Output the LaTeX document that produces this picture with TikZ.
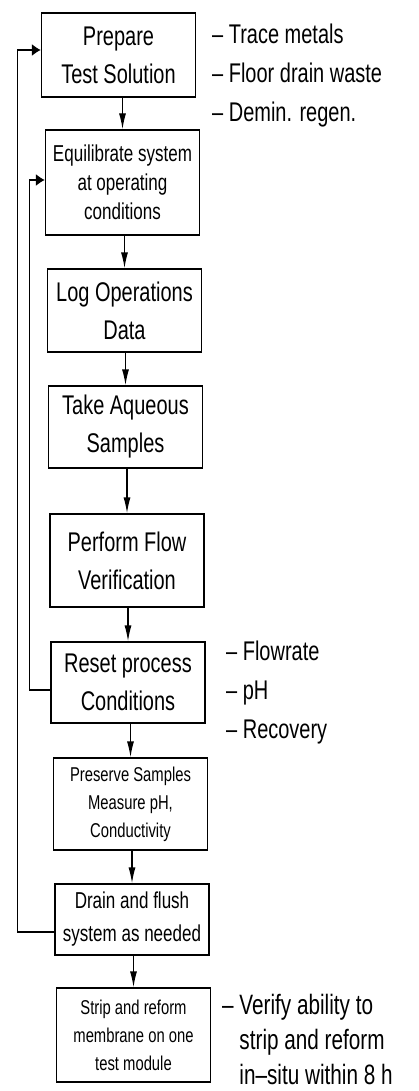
\documentclass[tikz,border=0pt]{standalone}
\usepackage{fontspec}
\setmainfont{Liberation Sans}[FakeStretch=0.74]
\usetikzlibrary{arrows.meta}
\newcommand{\bigfont}{\fontsize{27}{38}\selectfont}
\newcommand{\midfont}{\fontsize{23}{29}\selectfont}
\newcommand{\drainfont}{\fontsize{23}{33}\selectfont}
\newcommand{\smallfont}{\fontsize{20}{28}\selectfont}
\newcommand{\notefont}{\fontsize{27}{39}\selectfont}
\begin{document}
\begin{tikzpicture}[x=1pt,y=-1pt,
		stepbox/.style={draw,line width=1.3pt,align=center,inner sep=0pt,minimum width=154pt},
		flow/.style={line width=1.3pt,-{Latex[length=16pt,width=7pt]}},
		back/.style={line width=1.3pt,-{Latex[length=9pt,width=12pt]}},
		note/.style={align=left,anchor=west,inner sep=0pt}]
	\useasboundingbox (0,0) rectangle (419,1091);
	% steps
	\node[stepbox,minimum height=84pt,font=\bigfont] (prep) at (118.5,55) {Prepare\\Test Solution};
	\node[stepbox,minimum height=105pt,font=\midfont] (equil) at (122.5,182.5) {Equilibrate system\\at operating\\conditions};
	\node[stepbox,minimum height=83pt,font=\bigfont] (log) at (124.5,310.5) {Log Operations\\Data};
	\node[stepbox,minimum height=82pt,font=\bigfont] (take) at (125.5,427) {Take Aqueous\\Samples};
	\node[stepbox,minimum height=93pt,font=\bigfont] (flowver) at (127,560.5) {Perform Flow\\Verification};
	\node[stepbox,minimum height=81pt,font=\bigfont] (reset) at (128,682.5) {Reset process\\Conditions};
	\node[stepbox,minimum height=92pt,font=\smallfont] (preserve) at (130.5,804) {Preserve Samples\\Measure pH,\\Conductivity};
	\node[stepbox,minimum height=71pt,font=\drainfont] (drain) at (132,919.5) {Drain and flush\\system as needed};
	\node[stepbox,minimum height=94pt,font=\smallfont] (strip) at (133.5,1035) {Strip and reform\\membrane on one\\test module};
	% notes
	\node[note,font=\notefont] (prepnotes) at (212,76) {-- Trace metals\\-- Floor drain waste\\-- Demin. regen.};
	\node[note,font=\notefont] (resetnotes) at (226,693) {-- Flowrate\\-- pH\\-- Recovery};
	\node[note,font={\fontsize{28}{35}\selectfont}] (stripnotes) at (222,1039) {-- Verify ability to\\\phantom{-- }strip and reform\\\phantom{-- }in--situ within 8 h};
	% arrows
	\foreach \a/\b in {prep/equil,equil/log,log/take,take/flowver,flowver/reset,reset/preserve,preserve/drain,drain/strip}
		\draw[flow] (\a.south -| \b.north) -- (\b.north);
	\draw[back] ([yshift=-7.5pt]reset.west) -- ++(-21,0) |- ([yshift=2.5pt]equil.west);
	\draw[back] ([yshift=-12.5pt]drain.west) -- ++(-37,0) |- ([yshift=5pt]prep.west);
\end{tikzpicture}
\end{document}
